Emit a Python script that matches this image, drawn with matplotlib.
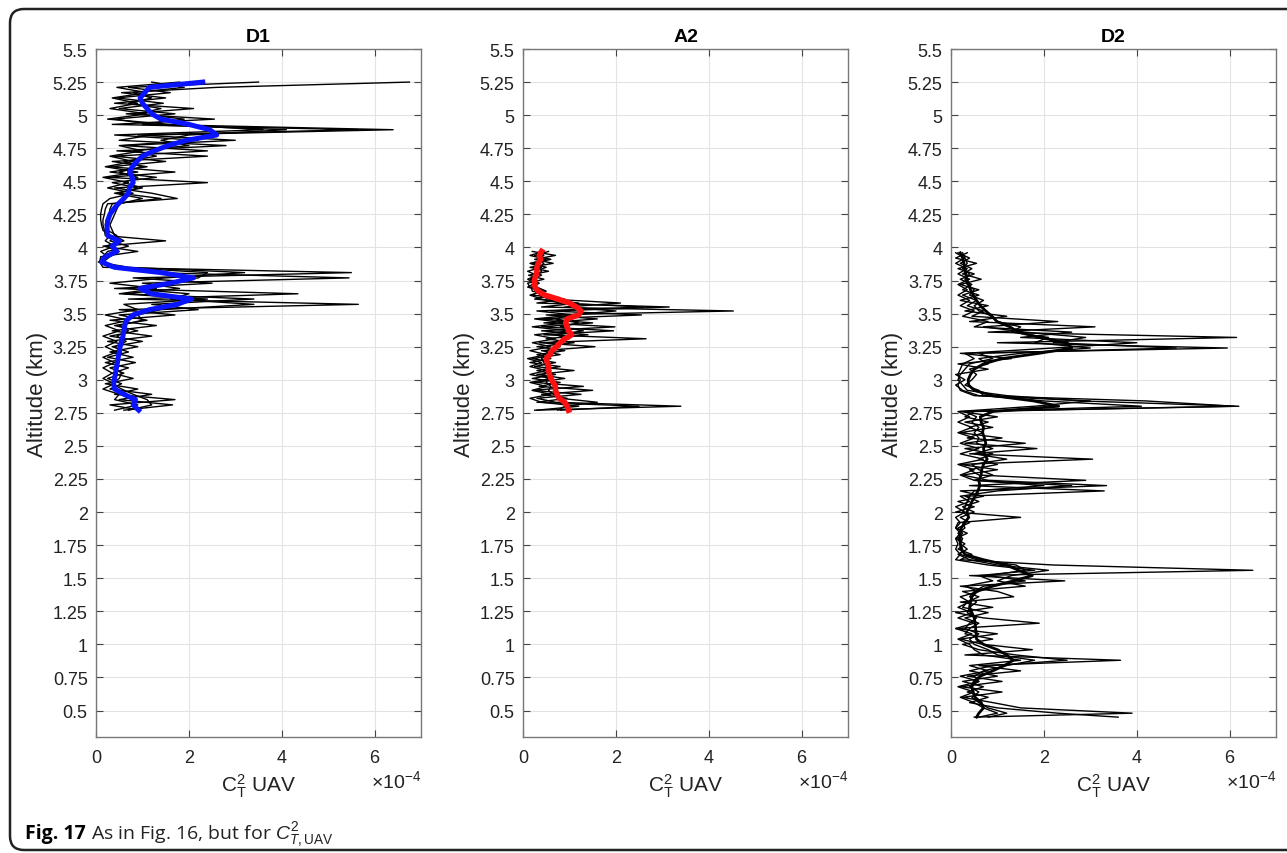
import numpy as np
import matplotlib
matplotlib.use('Agg')
from matplotlib import pyplot as plt
from matplotlib.patches import FancyBboxPatch
from matplotlib.ticker import FuncFormatter

plt.rcParams['font.family'] = ['Liberation Sans', 'DejaVu Sans']
plt.rcParams['mathtext.fontset'] = 'custom'
plt.rcParams['mathtext.rm'] = 'Liberation Sans'
plt.rcParams['mathtext.it'] = 'Liberation Sans:italic'
plt.rcParams['mathtext.bf'] = 'Liberation Sans:bold'

# ----------------------------------
# values, C_T^2 in units of 1e-4, altitude in km
d1_alt = [5.25, 5.21, 5.17, 5.13, 5.09, 5.05, 5.01, 4.97, 4.93, 4.89, 4.85, 4.81, 4.77, 4.73, 4.69, 4.65,
          4.61, 4.57, 4.53, 4.49, 4.45, 4.41, 4.37, 4.33, 4.29, 4.25, 4.21, 4.17, 4.13, 4.09, 4.05, 4.01,
          3.97, 3.93, 3.89, 3.85, 3.81, 3.77, 3.73, 3.69, 3.65, 3.61, 3.57, 3.53, 3.49, 3.45, 3.41, 3.37,
          3.33, 3.29, 3.25, 3.21, 3.17, 3.13, 3.09, 3.05, 3.01, 2.97, 2.93, 2.89, 2.85, 2.81, 2.77]
d1_mean = [2.30, 1.15, 1.05, 0.95, 1.00, 1.10, 1.20, 1.40, 2.00, 2.45, 2.60, 1.95, 1.55, 1.25, 1.00, 0.88,
           0.78, 0.72, 0.78, 0.80, 0.72, 0.70, 0.60, 0.48, 0.38, 0.30, 0.26, 0.24, 0.24, 0.25, 0.50, 0.35,
           0.45, 0.20, 0.12, 0.40, 1.40, 2.10, 1.60, 0.95, 1.20, 2.05, 1.75, 1.15, 0.80, 0.66, 0.62, 0.60,
           0.58, 0.55, 0.52, 0.50, 0.48, 0.46, 0.44, 0.42, 0.40, 0.38, 0.40, 0.60, 0.85, 0.80, 0.92]
d1_run1 = [6.75, 2.60, 0.55, 1.50, 0.40, 2.10, 0.65, 2.55, 0.35, 5.65, 0.90, 3.00, 0.60, 2.40, 0.40, 1.50,
           0.30, 1.70, 0.25, 2.40, 0.40, 1.20, 1.75, 0.25, 0.20, 0.18, 0.15, 0.15, 0.18, 0.20, 1.50, 0.15,
           0.90, 0.10, 0.08, 0.15, 5.50, 0.80, 2.50, 0.40, 4.35, 0.70, 5.65, 0.50, 1.70, 0.30, 1.30, 0.35,
           1.20, 0.25, 0.90, 0.30, 0.80, 0.20, 0.70, 0.35, 0.80, 0.20, 0.90, 0.40, 1.70, 0.30, 0.95]
d1_run2 = [3.50, 0.70, 1.60, 0.45, 1.45, 0.50, 1.70, 0.40, 1.20, 6.40, 1.20, 0.50, 2.80, 0.45, 2.40, 0.35,
           1.10, 0.30, 1.30, 0.35, 0.90, 0.50, 1.40, 0.35, 0.30, 0.28, 0.22, 0.20, 0.25, 0.45, 0.30, 0.70,
           0.25, 0.15, 0.10, 0.30, 1.20, 5.45, 1.00, 1.80, 0.60, 3.40, 1.20, 2.20, 0.50, 1.10, 0.40, 0.90,
           0.30, 1.00, 0.35, 0.70, 0.25, 0.85, 0.30, 0.60, 0.25, 0.55, 0.30, 1.20, 0.50, 1.65, 0.60]
d1_run3 = [1.20, 1.90, 0.80, 1.20, 0.70, 1.40, 0.90, 1.90, 1.00, 4.10, 2.00, 1.40, 2.00, 0.80, 1.30, 0.60,
           1.00, 0.50, 0.90, 0.60, 1.00, 0.40, 1.00, 0.50, 0.45, 0.40, 0.35, 0.30, 0.35, 0.40, 0.60, 0.20,
           0.50, 0.30, 0.15, 0.50, 2.40, 2.20, 1.40, 0.70, 2.00, 1.60, 3.40, 1.40, 0.90, 1.00, 0.50, 0.70,
           0.45, 0.65, 0.40, 0.55, 0.45, 0.50, 0.40, 0.55, 0.50, 0.35, 0.55, 0.80, 1.10, 1.20, 0.70]
d1_run4 = [1.80, 0.45, 1.10, 0.35, 0.90, 0.30, 1.10, 0.25, 1.60, 3.60, 0.40, 2.20, 0.50, 1.00, 0.30, 0.80,
           0.20, 0.90, 0.15, 0.70, 0.25, 0.80, 0.30, 0.15, 0.12, 0.10, 0.10, 0.12, 0.15, 0.30, 0.20, 0.40,
           0.10, 0.25, 0.05, 0.70, 3.20, 1.50, 0.30, 1.30, 0.50, 2.40, 0.60, 0.90, 0.20, 0.70, 0.20, 0.50,
           0.15, 0.45, 0.20, 0.45, 0.15, 0.40, 0.15, 0.35, 0.15, 0.40, 0.15, 0.50, 0.40, 0.90, 0.40]

a2_alt = [3.97, 3.94, 3.91, 3.88, 3.85, 3.82, 3.79, 3.76, 3.73, 3.70, 3.67, 3.64, 3.61, 3.58, 3.55, 3.52,
          3.49, 3.46, 3.43, 3.40, 3.37, 3.34, 3.31, 3.28, 3.25, 3.22, 3.19, 3.16, 3.13, 3.10, 3.07, 3.04,
          3.01, 2.98, 2.95, 2.92, 2.89, 2.86, 2.83, 2.80, 2.77]
a2_mean = [0.40, 0.35, 0.38, 0.33, 0.30, 0.30, 0.28, 0.25, 0.25, 0.26, 0.32, 0.47, 0.75, 1.00, 1.15, 1.25,
           1.20, 0.95, 0.92, 0.95, 0.98, 1.05, 0.90, 0.80, 0.72, 0.62, 0.58, 0.50, 0.52, 0.55, 0.55, 0.57,
           0.60, 0.65, 0.70, 0.70, 0.73, 0.78, 0.90, 0.95, 0.98]
a2_run1 = [0.20, 0.70, 0.25, 0.65, 0.15, 0.55, 0.12, 0.45, 0.10, 0.15, 0.35, 0.20, 0.90, 0.30, 3.15, 0.60,
           2.55, 0.35, 1.50, 0.40, 1.95, 0.45, 2.65, 0.35, 1.55, 0.40, 0.80, 0.20, 0.70, 0.25, 1.10, 0.30,
           0.90, 0.25, 1.30, 0.20, 1.25, 0.30, 0.70, 3.40, 0.25]
a2_run2 = [0.55, 0.25, 0.60, 0.20, 0.50, 0.25, 0.40, 0.15, 0.35, 0.18, 0.20, 0.60, 0.25, 1.20, 0.40, 4.53,
           0.50, 1.60, 0.45, 1.98, 0.40, 1.40, 0.50, 1.10, 0.30, 0.90, 0.30, 0.60, 0.15, 0.80, 0.30, 0.70,
           0.20, 0.80, 0.35, 1.50, 0.40, 0.95, 0.30, 2.50, 0.80]
a2_run3 = [0.35, 0.45, 0.30, 0.45, 0.35, 0.40, 0.30, 0.25, 0.20, 0.30, 0.50, 0.35, 0.55, 2.10, 0.90, 2.00,
           1.00, 0.70, 1.20, 0.80, 1.30, 0.70, 1.00, 0.60, 0.80, 0.50, 0.55, 0.40, 0.45, 0.50, 0.60, 0.45,
           0.55, 0.50, 0.60, 0.55, 0.65, 0.80, 1.60, 0.90, 0.75]
a2_run4 = [0.45, 0.15, 0.50, 0.15, 0.40, 0.10, 0.30, 0.10, 0.25, 0.10, 0.45, 0.15, 0.40, 0.80, 2.60, 0.30,
           1.10, 0.25, 0.90, 0.20, 1.00, 0.25, 0.70, 0.20, 0.60, 0.15, 0.50, 0.10, 0.40, 0.15, 0.50, 0.15,
           0.60, 0.15, 0.50, 0.20, 0.60, 0.15, 0.40, 1.20, 0.30]

d2_alt = [3.96, 3.92, 3.88, 3.84, 3.80, 3.76, 3.72, 3.68, 3.64, 3.60, 3.56, 3.52, 3.48, 3.44, 3.40, 3.36,
          3.32, 3.28, 3.24, 3.20, 3.16, 3.12, 3.08, 3.04, 3.00, 2.96, 2.92, 2.88, 2.84, 2.80, 2.76, 2.72,
          2.68, 2.64, 2.60, 2.56, 2.52, 2.48, 2.44, 2.40, 2.36, 2.32, 2.28, 2.24, 2.20, 2.16, 2.12, 2.08,
          2.04, 2.00, 1.96, 1.92, 1.88, 1.84, 1.80, 1.76, 1.72, 1.68, 1.64, 1.60, 1.56, 1.52, 1.48, 1.44,
          1.40, 1.36, 1.32, 1.28, 1.24, 1.20, 1.16, 1.12, 1.08, 1.04, 1.00, 0.96, 0.92, 0.88, 0.84, 0.80,
          0.76, 0.72, 0.68, 0.64, 0.60, 0.56, 0.52, 0.48, 0.45]
d2_mean = [0.20, 0.25, 0.28, 0.30, 0.32, 0.34, 0.38, 0.42, 0.48, 0.55, 0.63, 0.75, 0.88, 0.99, 1.27, 1.45,
           1.90, 2.50, 2.60, 1.90, 1.10, 0.70, 0.50, 0.42, 0.37, 0.38, 0.50, 0.90, 1.78, 2.32, 0.90, 0.63,
           0.65, 0.70, 0.68, 0.72, 0.75, 0.70, 0.72, 0.78, 0.70, 0.66, 0.65, 0.60, 0.62, 0.58, 0.52, 0.45,
           0.40, 0.34, 0.38, 0.30, 0.22, 0.20, 0.20, 0.20, 0.22, 0.30, 0.70, 1.20, 1.45, 1.75, 1.35, 0.90,
           0.55, 0.45, 0.42, 0.40, 0.45, 0.50, 0.52, 0.53, 0.54, 0.55, 0.70, 1.00, 1.20, 1.34, 1.15, 0.90,
           0.63, 0.50, 0.45, 0.47, 0.52, 0.65, 0.70, 0.60, 0.55]
d2_run1 = [0.35, 0.10, 0.55, 0.15, 0.50, 0.20, 0.45, 0.25, 0.60, 0.20, 0.80, 0.30, 1.20, 0.40, 3.10, 0.80,
           6.15, 1.00, 5.95, 0.20, 1.30, 0.15, 0.80, 0.10, 0.30, 0.10, 0.25, 0.60, 4.20, 6.10, 0.20, 1.00,
           0.30, 0.90, 0.20, 1.10, 0.30, 1.85, 0.40, 3.05, 0.20, 1.00, 0.25, 0.80, 3.35, 0.20, 0.70, 0.15,
           0.50, 0.10, 1.50, 0.15, 0.10, 0.35, 0.10, 0.30, 0.15, 0.45, 0.20, 2.20, 6.50, 0.40, 2.45, 0.20,
           1.00, 1.35, 0.20, 0.90, 0.10, 0.70, 1.90, 0.10, 1.00, 0.20, 0.70, 1.75, 0.30, 3.65, 0.60, 1.50,
           0.35, 1.10, 0.20, 1.10, 0.25, 0.90, 1.50, 3.90, 0.50]
d2_run2 = [0.15, 0.40, 0.20, 0.45, 0.25, 0.65, 0.20, 0.60, 0.25, 0.55, 0.35, 0.70, 0.45, 2.30, 0.70, 1.60,
           2.90, 2.20, 4.85, 0.60, 0.90, 0.40, 0.30, 0.20, 0.15, 0.25, 0.35, 1.20, 2.80, 6.20, 0.50, 0.30,
           0.80, 0.40, 0.70, 0.35, 1.60, 0.30, 0.90, 0.60, 1.00, 0.40, 0.60, 2.90, 0.40, 3.30, 0.30, 0.60,
           0.25, 0.50, 0.20, 0.40, 0.15, 0.25, 0.15, 0.20, 0.35, 0.15, 0.40, 1.00, 2.10, 1.30, 1.00, 1.60,
           0.25, 0.60, 0.35, 0.25, 0.80, 0.30, 0.60, 0.40, 0.30, 0.90, 0.25, 0.60, 1.40, 2.50, 0.90, 0.40,
           1.00, 0.25, 0.70, 0.35, 0.80, 0.40, 1.00, 2.30, 3.60]
d2_run3 = [0.25, 0.30, 0.35, 0.25, 0.40, 0.30, 0.35, 0.50, 0.40, 0.70, 0.50, 0.60, 0.90, 1.00, 1.50, 1.30,
           2.10, 1.80, 3.00, 1.50, 0.60, 0.80, 0.40, 0.55, 0.45, 0.30, 0.60, 0.70, 2.00, 4.10, 0.30, 0.55,
           0.45, 0.60, 0.50, 0.60, 0.55, 0.90, 0.50, 1.20, 0.45, 0.60, 0.90, 0.50, 2.00, 0.50, 0.40, 0.35,
           0.30, 0.25, 0.40, 0.25, 0.30, 0.15, 0.25, 0.20, 0.25, 0.20, 0.55, 1.40, 1.60, 0.80, 1.60, 0.70,
           0.50, 0.40, 0.55, 0.40, 0.35, 0.55, 0.40, 0.30, 0.60, 0.40, 0.50, 0.80, 1.00, 1.80, 1.20, 0.70,
           0.50, 0.60, 0.40, 0.60, 0.45, 0.60, 0.80, 1.20, 0.80]
d2_run4 = [0.10, 0.30, 0.10, 0.35, 0.15, 0.40, 0.15, 0.35, 0.15, 0.40, 0.20, 0.50, 0.25, 0.80, 0.50, 2.60,
           1.50, 4.00, 2.20, 0.30, 0.50, 0.25, 0.20, 0.15, 0.20, 0.15, 0.20, 0.50, 3.00, 1.80, 0.15, 0.40,
           0.15, 0.45, 0.15, 0.50, 0.20, 0.60, 0.20, 0.70, 0.15, 0.50, 0.20, 0.50, 2.60, 1.00, 0.20, 0.40,
           0.10, 0.30, 0.10, 0.20, 0.10, 0.20, 0.10, 0.15, 0.10, 0.20, 0.10, 0.80, 1.80, 0.60, 0.90, 0.30,
           0.60, 0.20, 0.40, 0.15, 0.45, 0.15, 0.50, 0.10, 0.45, 0.15, 0.40, 0.50, 0.70, 1.50, 0.40, 0.80,
           0.20, 0.60, 0.15, 0.50, 0.20, 0.50, 0.70, 1.00, 0.60]

titles = ['D1', 'A2', 'D2']
mean_colors = ['#0a14ff', '#ff1010', 'black']
mean_widths = [3.6, 4.0, 2.0]
y_ticks = [0.5, 0.75, 1, 1.25, 1.5, 1.75, 2, 2.25, 2.5, 2.75, 3, 3.25, 3.5, 3.75, 4, 4.25, 4.5,
           4.75, 5, 5.25, 5.5]
x_ticks = [0, 2, 4, 6]

panels = [(d1_alt, [d1_run1, d1_run2, d1_run3, d1_run4], d1_mean),
          (a2_alt, [a2_run1, a2_run2, a2_run3, a2_run4], a2_mean),
          (d2_alt, [d2_run1, d2_run2, d2_run3, d2_run4], d2_mean)]

W, H = 1287, 854
fig = plt.figure(figsize=(W / 100, H / 100), dpi=100)

# rounded frame around the whole figure
bg = fig.add_axes([0, 0, 1, 1], zorder=-5)
bg.set_xlim(0, W)
bg.set_ylim(H, 0)
bg.axis('off')
bg.add_patch(FancyBboxPatch((10, 10), W + 30, H - 13, boxstyle='round,pad=0,rounding_size=14',
                            fc='white', ec='#222222', lw=1.8))

lefts = [96, 523, 951]
for k, (alt, runs, mean) in enumerate(panels):
    ax = fig.add_axes([lefts[k] / W, (H - 738) / H, 325 / W, 688 / H])
    for run in runs:
        ax.plot(np.array(run) * 1e-4, alt, color='black', lw=1.0)
    ax.plot(np.array(mean) * 1e-4, alt, color=mean_colors[k], lw=mean_widths[k])
    ax.set_xlim(0, 7e-4)
    ax.set_ylim(0.3, 5.5)
    ax.set_yticks(y_ticks)
    ax.yaxis.set_major_formatter(FuncFormatter(lambda v, p: f'{v:g}'))
    ax.set_xticks([t * 1e-4 for t in x_ticks])
    ax.xaxis.set_major_formatter(FuncFormatter(lambda v, p: f'{v * 1e4:g}'))
    ax.grid(True, color='#e3e3e3', lw=0.8)
    ax.set_axisbelow(True)
    ax.tick_params(direction='in', top=True, right=True, length=5, width=0.8, color='#444444',
                   labelsize=13, labelcolor='#222222')
    ax.tick_params(axis='x', pad=9)
    ax.tick_params(axis='y', pad=6)
    for s in ax.spines.values():
        s.set_color('#777777')
        s.set_linewidth(1.0)
    ax.set_title(titles[k], fontsize=14, fontweight='bold', pad=6)
    ax.set_xlabel(r'C$_\mathrm{T}^\mathrm{2}$ UAV', fontsize=15, color='#222222', labelpad=4)
    ax.set_ylabel('Altitude (km)', fontsize=16, color='#222222')
    ax.yaxis.set_label_coords(-0.148, 0.5)
    ax.text(1.0, -0.063, r'$\times$10$^\mathrm{-4}$', transform=ax.transAxes, ha='right', va='center',
            fontsize=14, color='#222222')

# caption
fig.canvas.draw()
r = fig.canvas.get_renderer()
t1 = fig.text(25 / W, (H - 839) / H, 'Fig. 17', family='Open Sans', fontweight='bold', fontsize=14,
              va='baseline')
bb = t1.get_window_extent(renderer=r)
fig.text(bb.x1 / W + 5 / W, (H - 839) / H, r'As in Fig. 16, but for $C^2_{T,\mathrm{UAV}}$',
         family='Open Sans', fontsize=14, va='baseline', color='#222222')

fig.savefig('out.png', dpi=100)
